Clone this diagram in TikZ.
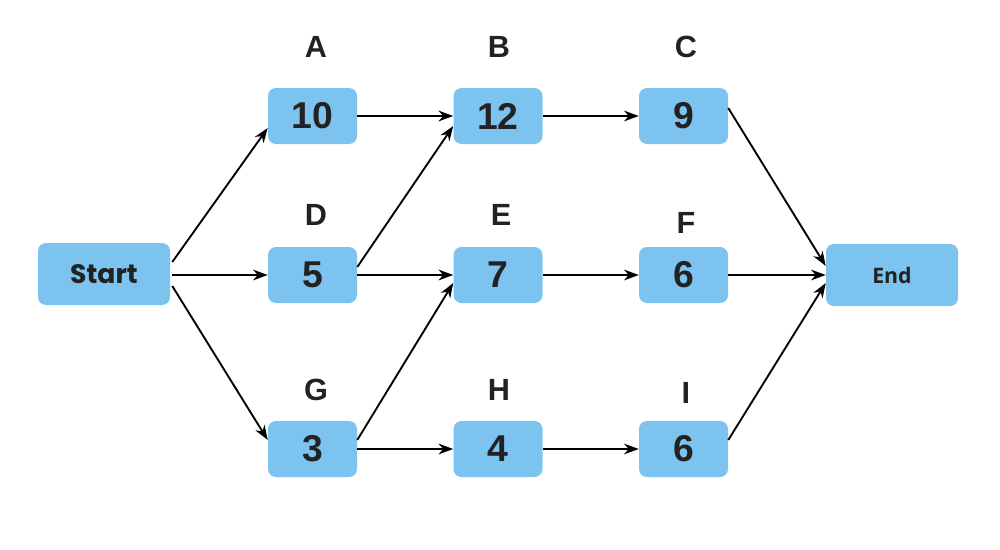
\documentclass[tikz,border=0pt]{standalone}
\usepackage{fontspec}
\setmainfont{Liberation Sans}
\newfontfamily\popfont{Poppins}
\newfontfamily\opfont{Open Sans}
\usetikzlibrary{arrows.meta,calc}
\definecolor{boxblue}{HTML}{7CC3EF}
\definecolor{ink}{HTML}{222222}
\tikzset{
  taskbox/.style={fill=boxblue, draw=none, rounded corners=6pt, minimum width=66.75pt, minimum height=42pt, inner sep=0pt, text=ink, font=\fontsize{28}{32}\selectfont\bfseries},
  endbox/.style={fill=boxblue, draw=none, rounded corners=6pt, minimum width=99pt, minimum height=46.5pt, inner sep=0pt, text=ink},
  tasklabel/.style={text=ink, font=\fontsize{23}{27}\selectfont\bfseries, inner sep=0pt},
  flow/.style={line width=1.4pt, black, -{Stealth[length=11pt,width=8pt,inset=3.5pt]}}
}
\begin{document}
\begin{tikzpicture}[x=0.75pt,y=-0.75pt]
\useasboundingbox (0,0) rectangle (1000,550);
\node[endbox, font=\popfont\fontsize{20}{24}\selectfont\bfseries] (start) at (104,274) {Start};
\node[endbox, font=\opfont\fontsize{16}{19}\selectfont\bfseries] (end) at (892,275) {End};
\node[taskbox] (A) at (312.5,116) {10};
\node[taskbox] (B) at (498,116) {12};
\node[taskbox] (C) at (683.5,116) {9};
\node[taskbox] (D) at (312.5,275) {5};
\node[taskbox] (E) at (498,275) {7};
\node[taskbox] (F) at (683.5,275) {6};
\node[taskbox] (G) at (312.5,449) {3};
\node[taskbox] (H) at (498,449) {4};
\node[taskbox] (I) at (683.5,449) {6};
\node[tasklabel] (lA) at (316,47) {A};
\node[tasklabel] (lB) at (499,47) {B};
\node[tasklabel] (lC) at (686,47) {C};
\node[tasklabel] (lD) at (316,215) {D};
\node[tasklabel] (lE) at (501,215) {E};
\node[tasklabel] (lF) at (686,223) {F};
\node[tasklabel] (lG) at (316,390) {G};
\node[tasklabel] (lH) at (499,390) {H};
\node[tasklabel] (lI) at (686,393) {I};
\draw[flow] ($(start.east)+(2,-12)$) -- ($(A.west)+(0,12)$);
\draw[flow] ($(start.east)+(2,1)$) -- (D.west);
\draw[flow] ($(start.east)+(2,12)$) -- ($(G.west)+(0,-9)$);
\draw[flow] (A.east) -- (B.west);
\draw[flow] ($(D.east)+(0,-8)$) -- ($(B.west)+(0,10)$);
\draw[flow] (D.east) -- (E.west);
\draw[flow] ($(G.east)+(0,-9)$) -- ($(E.west)+(0,8)$);
\draw[flow] (G.east) -- (H.west);
\draw[flow] (B.east) -- (C.west);
\draw[flow] (E.east) -- (F.west);
\draw[flow] (H.east) -- (I.west);
\draw[flow] ($(C.east)+(0,-8)$) -- ($(end.west)+(0,-9)$);
\draw[flow] (F.east) -- (end.west);
\draw[flow] ($(I.east)+(0,-9)$) -- ($(end.west)+(0,8)$);
\end{tikzpicture}
\end{document}
